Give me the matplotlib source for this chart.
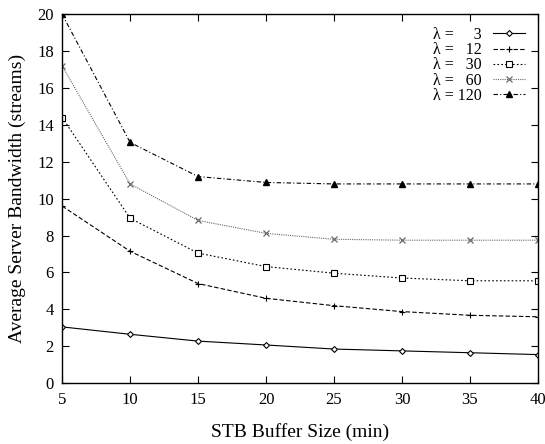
import numpy as np
import matplotlib
matplotlib.use("Agg")
from matplotlib import pyplot as plt

plt.rcParams['font.family'] = ['Liberation Serif', 'DejaVu Serif']

buffer_size = [5, 10, 15, 20, 25, 30, 35, 40]
lam3 = [3.05, 2.65, 2.28, 2.07, 1.85, 1.75, 1.65, 1.55]
lam12 = [9.6, 7.15, 5.4, 4.6, 4.2, 3.88, 3.68, 3.6]
lam30 = [14.4, 8.94, 7.05, 6.32, 5.96, 5.7, 5.55, 5.55]
lam60 = [17.2, 10.8, 8.82, 8.12, 7.8, 7.75, 7.75, 7.75]
lam120 = [20.0, 13.05, 11.2, 10.88, 10.8, 10.8, 10.8, 10.8]
labels = ["\u03bb =     3", "\u03bb =   12", "\u03bb =   30", "\u03bb =   60", "\u03bb = 120"]

fig = plt.figure(figsize=(5.45, 4.44), dpi=100)
ax = fig.add_axes([0.114, 0.137, 0.873, 0.831])

ax.plot(buffer_size, lam3, color="black", lw=0.8, ls="-", marker="D", ms=3,
        mfc="white", mew=0.8, label=labels[0])
ax.plot(buffer_size, lam12, color="black", lw=0.8, ls=(0, (4, 2)), marker="+", ms=5,
        mew=0.8, label=labels[1])
ax.plot(buffer_size, lam30, color="black", lw=0.8, ls=(0, (1.5, 2)), marker="s", ms=4,
        mfc="white", mew=0.8, label=labels[2])
ax.plot(buffer_size, lam60, color="dimgray", lw=0.8, ls=(0, (1, 1)), marker="x", ms=4.5,
        mew=0.9, label=labels[3])
ax.plot(buffer_size, lam120, color="black", lw=0.8, ls=(0, (4, 2, 1, 2)), marker="^", ms=4,
        label=labels[4])

ax.set_xlim(5, 40)
ax.set_ylim(0, 20)
ax.set_xticks(range(5, 41, 5))
ax.set_yticks(range(0, 21, 2))
ax.tick_params(direction="in", top=True, right=True, labelsize=12, length=5, pad=6)
ax.set_xlabel("STB Buffer Size (min)", fontsize=14, labelpad=11)
ax.set_ylabel("Average Server Bandwidth (streams)", fontsize=14, labelpad=8)
for s in ax.spines.values():
    s.set_linewidth(1.0)

ax.legend(loc="upper right", frameon=False, markerfirst=False, fontsize=11.5,
          handlelength=2.0, handletextpad=0.7, labelspacing=-0.05,
          borderaxespad=0.4)

fig.savefig("out.png", dpi=100)
